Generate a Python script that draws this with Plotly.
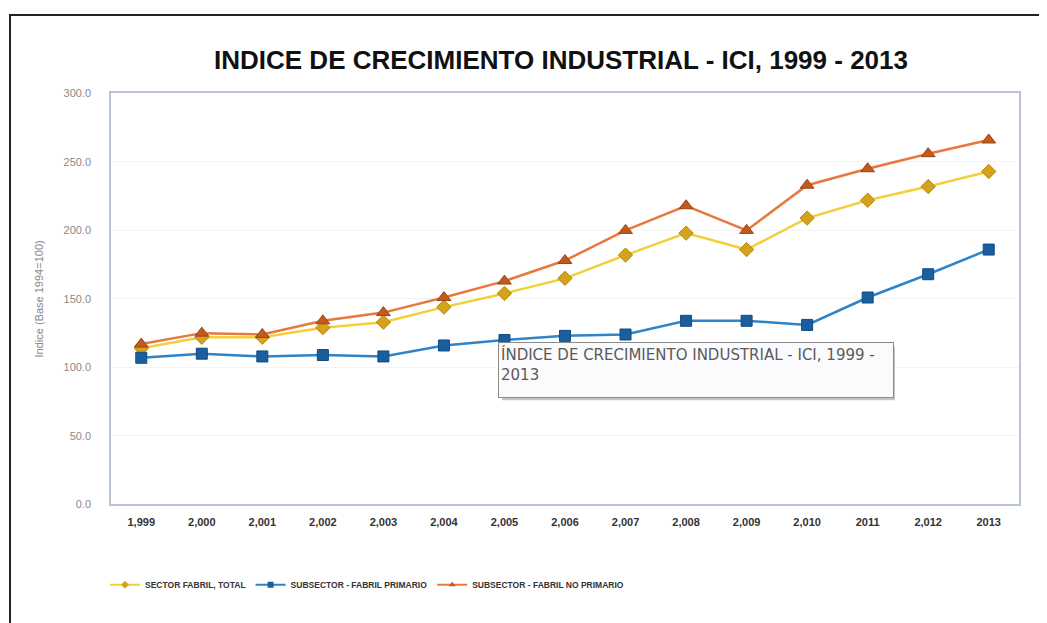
import plotly.graph_objects as go

# Datos
years = [1999, 2000, 2001, 2002, 2003, 2004, 2005, 2006, 2007, 2008, 2009, 2010, 2011, 2012, 2013]
year_labels = ["1,999", "2,000", "2,001", "2,002", "2,003", "2,004", "2,005", "2,006",
               "2,007", "2,008", "2,009", "2,010", "2011", "2,012", "2013"]
sector_total = [114, 122, 122, 129, 133, 144, 154, 165, 182, 198, 186, 209, 222, 232, 243]
fabril_primario = [107, 110, 108, 109, 108, 116, 120, 123, 124, 134, 134, 131, 151, 168, 186]
fabril_no_primario = [117, 125, 124, 134, 140, 151, 163, 178, 200, 218, 200, 233, 245, 256, 266]
y_ticks = [0, 50, 100, 150, 200, 250, 300]

W, H = 1047, 623


def px(x):
    # posición horizontal en la captura -> papel
    return (x - 7) / W


def py(y):
    # posición vertical en la captura -> papel
    return 1 - ((y - 10) / 0.988) / H


colors = {
    'yellow': '#F2D03A',
    'yellow_mk': '#D4A21C',
    'blue': '#2F84C8',
    'blue_mk': '#1B5E9E',
    'orange': '#E9783D',
    'orange_mk': '#C05A1E',
}

series = [
    ('SECTOR FABRIL, TOTAL', sector_total, 'yellow', 'diamond', '#B8860B', 11),
    ('SUBSECTOR - FABRIL PRIMARIO', fabril_primario, 'blue', 'square', '#134a80', 11),
    ('SUBSECTOR - FABRIL NO PRIMARIO', fabril_no_primario, 'orange', 'triangle-up', '#9a4512', 12),
]

fig = go.Figure()

for name, vals, col, sym, edge, size in series:
    fig.add_trace(go.Scatter(
        x=years, y=vals, mode='lines+markers', name=name, showlegend=False,
        line=dict(color=colors[col], width=2.5),
        marker=dict(symbol=sym, size=size, color=colors[col + '_mk'],
                    line=dict(color=edge, width=1))
    ))

# Entradas de leyenda con marcadores pequeños
for name, vals, col, sym, edge, size in series:
    fig.add_trace(go.Scatter(
        x=[None], y=[None], mode='lines+markers', name=name,
        line=dict(color=colors[col], width=2),
        marker=dict(symbol=sym, size=6, color=colors[col + '_mk'])
    ))

# Marco exterior (solo arriba e izquierda)
fig.add_shape(type='line', xref='paper', yref='paper', x0=px(8), x1=1, y0=1 - 1 / H, y1=1 - 1 / H,
              line=dict(color='#222222', width=2))
fig.add_shape(type='line', xref='paper', yref='paper', x0=px(9), x1=px(9), y0=0, y1=1 - 1 / H,
              line=dict(color='#222222', width=2))

# Sombra del recuadro del tooltip
fig.add_shape(type='rect', xref='paper', yref='paper',
              x0=px(501), x1=px(894), y0=py(399), y1=py(345),
              line=dict(width=0), fillcolor='rgba(110,110,110,0.4)', layer='above')

fig.add_annotation(
    xref='paper', yref='paper', x=px(497), y=py(340), xanchor='left', yanchor='top',
    text='ÍNDICE DE CRECIMIENTO INDUSTRIAL - ICI, 1999 -<br>2013',
    showarrow=False, align='left',
    font=dict(family='DejaVu Sans', size=15, color='#5a5a5a'),
    bgcolor='#FBFBFD', bordercolor='#8a8a8a', borderwidth=1, borderpad=2,
    width=390, height=50, valign='top'
)

fig.update_layout(
    width=W, height=H,
    margin=dict(l=0, r=0, t=0, b=0),
    paper_bgcolor='white', plot_bgcolor='white',
    title=dict(text='<b>INDICE DE CRECIMIENTO INDUSTRIAL - ICI, 1999 - 2013</b>',
               x=px(560), xanchor='center', y=py(61), yanchor='middle',
               font=dict(family='Liberation Sans, Arial', size=26, color='#111111')),
    font=dict(family='Liberation Sans, Arial', size=10, color='#555555'),
    showlegend=True,
    legend=dict(orientation='h', x=px(104), xanchor='left', y=py(585), yanchor='middle',
                font=dict(family='Liberation Sans Narrow, Liberation Sans', size=8.5,
                          color='#333333', weight='bold'),
                itemwidth=30),
    xaxis=dict(domain=[px(110), px(1018)], range=[1998.5, 2013.5],
               tickvals=years, ticktext=year_labels, showgrid=False, zeroline=False,
               showline=True, mirror=True, linecolor='#B8C4D4', linewidth=1.5,
               ticks='', ticklen=0, ticklabelstandoff=7,
               tickfont=dict(family='Liberation Sans, Arial', size=11, color='#333333',
                             weight='bold')),
    yaxis=dict(domain=[py(504), py(90)], range=[0, 300], tickvals=y_ticks, tickformat='.1f',
               showgrid=True, gridcolor='#F3F3F3', zeroline=False,
               showline=True, mirror=True, linecolor='#B8C4D4', linewidth=1.5,
               tickfont=dict(family='Liberation Sans, Arial', size=11, color='#8a8a8a'),
               ticklabelstandoff=16,
               title=dict(text='Indice (Base 1994=100)', standoff=18,
                          font=dict(family='Liberation Sans, Arial', size=11, color='#888888'))),
)

fig.write_html("out.html")
